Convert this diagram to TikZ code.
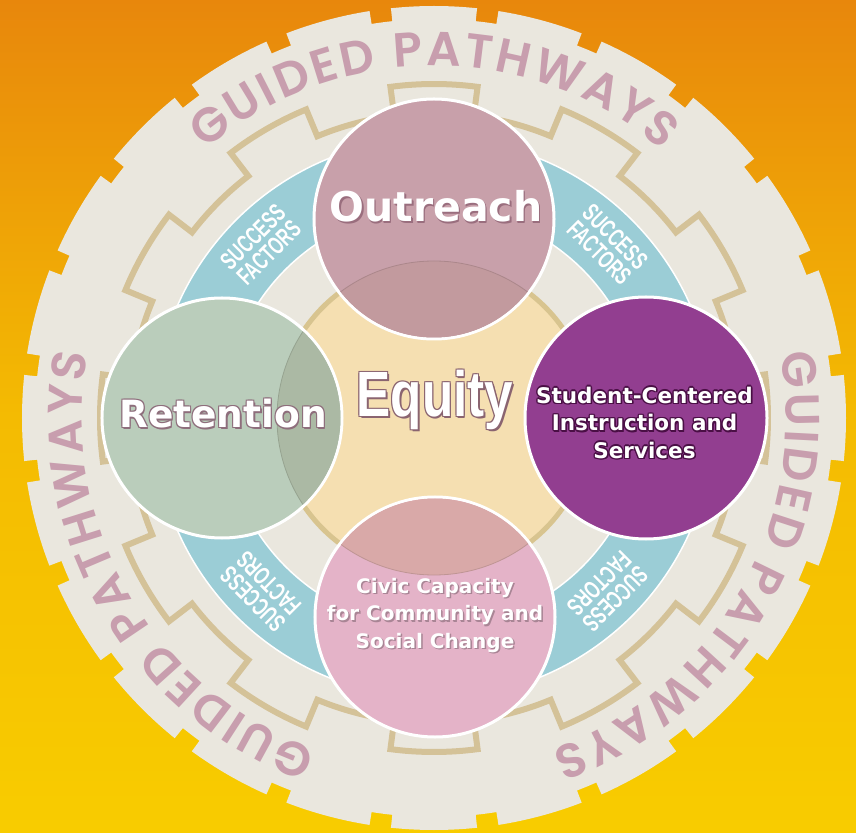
\documentclass[tikz,border=0pt]{standalone}
\usepackage{fontspec}
\usetikzlibrary{decorations.text,calc}
\setmainfont{DejaVu Sans}
\newfontfamily\circfont{DejaVu Sans}
\newfontfamily\eqfont[FakeStretch=0.8]{Liberation Sans}
\newfontfamily\sfcond[FakeStretch=0.66]{Liberation Sans}
\newfontfamily\gpfont{Poppins}[UprightFont=* SemiBold]
\definecolor{cream}{HTML}{EAE7DE}
\definecolor{gearline}{HTML}{D4C298}
\definecolor{blueband}{HTML}{9BCDD6}
\definecolor{eqfill}{HTML}{F5DFB1}
\definecolor{eqline}{HTML}{D8C48F}
\definecolor{outr}{HTML}{C8A0AA}
\definecolor{outrov}{HTML}{C29A9E}
\definecolor{reten}{HTML}{BACDBB}
\definecolor{retenov}{HTML}{ABB9A4}
\definecolor{civic}{HTML}{E4B3C8}
\definecolor{civicov}{HTML}{D9A9A8}
\definecolor{stud}{HTML}{923E90}
\definecolor{gptext}{HTML}{C89EAE}
\definecolor{bgtop}{HTML}{E8870C}
\definecolor{bgmid}{HTML}{F4BB02}
\definecolor{bgbot}{HTML}{F8CC00}
\definecolor{outrsh}{HTML}{9A6E7E}
\definecolor{retsh}{HTML}{8E6E7C}
\definecolor{eqsh}{HTML}{8A6470}
\definecolor{studsh}{HTML}{4A0F45}
\definecolor{civsh}{HTML}{A98595}
\tikzset{
  ringcircle/.style={circle, inner sep=0pt, minimum size=240pt, draw=white, line width=3pt},
  sftext/.style={text=white, align=center, inner sep=0pt, font=\sfcond\bfseries\fontsize{25}{22.5}\selectfont},
  outrstyle/.style={anchor=base, inner sep=0pt, font=\circfont\bfseries\fontsize{41}{48}\selectfont},
  retstyle/.style={anchor=base, inner sep=0pt, font=\circfont\bfseries\fontsize{37.5}{44}\selectfont},
  eqstyle/.style={anchor=base, inner sep=0pt, font=\eqfont\bfseries\fontsize{64}{70}\selectfont},
  studstyle/.style={anchor=center, align=center, inner sep=0pt, font=\circfont\bfseries\fontsize{21.5}{27.5}\selectfont},
  civstyle/.style={anchor=center, align=center, inner sep=0pt, font=\circfont\bfseries\fontsize{20}{27.5}\selectfont},
}
\newcommand\labeltext[6]{%
  \foreach \dx/\dy in {#5} \node[#3, text=#4] at ($(#2)+(\dx,\dy)$) {#6};
  \node[#3, text=white] (#1) at (#2) {#6};
}
\newcommand\gpstyle{\gpfont\fontsize{48}{52}\selectfont\color{gptext}}
\begin{document}
\begin{tikzpicture}[x=1pt,y=1pt]
\useasboundingbox (-434,-414) rectangle (422,418);
\shade[top color=bgtop, bottom color=bgbot, middle color=bgmid] (-434,-414) rectangle (422,418);
% outer gear
\fill[cream] (-6:412) \foreach \a in {0,15,...,345}{
  arc[start angle=\a-6, end angle=\a+6, radius=412] -- ({\a+6}:399)
  arc[start angle=\a+6, end angle=\a+9, radius=399] -- ({\a+9}:412) } -- cycle;
% curved titles
\foreach \t in {90,210,330}
  \path[decorate, decoration={text along path, text={|\gpstyle|GUIDED PATHWAYS}, text align={fit to path}}]
    ({\t+40.5}:352) arc[start angle=\t+40.5, end angle=\t-40.5, radius=352];
% inner gear outline
\draw[gearline, line width=6pt, line join=miter] (-7.5:334) \foreach \a in {0,30,...,330}{
  arc[start angle=\a-7.5, end angle=\a+7.5, radius=334] -- ({\a+7.5}:305)
  arc[start angle=\a+7.5, end angle=\a+22.5, radius=305] -- ({\a+22.5}:334) } -- cycle;
% success factors band
\fill[blueband, even odd rule] (0,0) circle[radius=280] (0,0) circle[radius=210];
\draw[white, line width=1.5pt] (0,0) circle[radius=280] (0,0) circle[radius=210];
\foreach \t [count=\i] in {45,135,225,315}
  \node[sftext, rotate=\t-90] (sf\i) at (\t:245) {SUCCESS\\FACTORS};
% equity
\node[circle, inner sep=0pt, minimum size=314pt, fill=eqfill, draw=eqline, line width=5pt] (equity) at (0,0) {};
% outreach
\node[ringcircle, fill=outr] (outreach) at (0,199) {};
\begin{scope}
  \clip (0,199) circle[radius=118.5];
  \fill[outrov] (0,0) circle[radius=157];
  \draw[outrov!88!black, line width=0.8pt] (0,0) circle[radius=157];
\end{scope}
% retention
\node[ringcircle, fill=reten] (retention) at (-212,0) {};
\begin{scope}
  \clip (-212,0) circle[radius=118.5];
  \fill[retenov] (0,0) circle[radius=157];
  \draw[retenov!88!black, line width=0.8pt] (0,0) circle[radius=157];
\end{scope}
% civic
\node[ringcircle, fill=civic] (civic) at (1,-199) {};
\begin{scope}
  \clip (1,-199) circle[radius=118.5];
  \fill[civicov] (0,0) circle[radius=157];
  \draw[civicov!88!black, line width=0.8pt] (0,0) circle[radius=157];
\end{scope}
% student
\node[ringcircle, fill=stud, minimum size=242pt] (student) at (212,0) {};
% labels
\labeltext{outreachlbl}{2,196}{outrstyle}{outrsh}{1/-1,1.5/-1.5}{Outreach}
\labeltext{retentionlbl}{-211,-10}{retstyle}{retsh}{1/-1,-1/1,1/1,-1/-1,1.5/-1.5}{Retention}
\labeltext{equitylbl}{1,1}{eqstyle}{eqsh}{1/-1,-1/1,1/1,-1/-1,1.5/-1.5}{Equity}
\labeltext{studentlbl}{210.5,-4.5}{studstyle}{studsh}{1/-1,-1/1,1/1,-1/-1,1.5/-1.5,1.5/0,-1.2/0,0/1.2,0/-1.5}{Student-Centered\\Instruction and\\Services}
\labeltext{civiclbl}{1,-197.5}{civstyle}{civsh}{1/-1,1.5/-1.5}{Civic Capacity\\for Community and\\Social Change}
\end{tikzpicture}
\end{document}
